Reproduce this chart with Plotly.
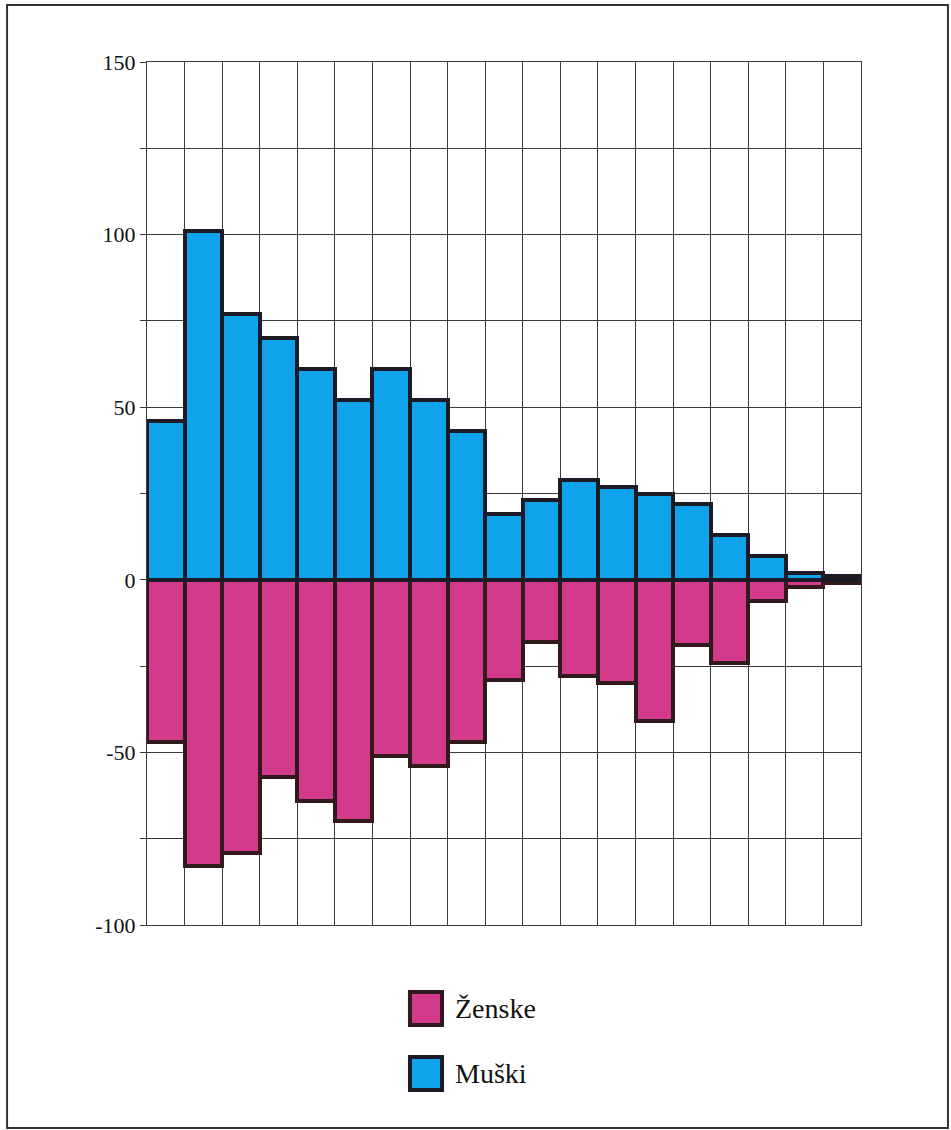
import plotly.graph_objects as go

# Age-group bins (19 columns), male above the axis, female below
groups = list(range(1, 20))
muski = [46, 101, 77, 70, 61, 52, 61, 52, 43, 19, 23, 29, 27, 25, 22, 13, 7, 2, 1]
zenske = [-47, -83, -79, -57, -64, -70, -51, -54, -47, -29, -18, -28, -30, -41, -19, -24, -6, -2, -1]

y_ticks = [-100, -75, -50, -25, 0, 25, 50, 75, 100, 125, 150]
y_labels = ["-100", "", "-50", "", "0", "", "50", "", "100", "", "150"]

SERIF = "Times New Roman, Liberation Serif, DejaVu Serif, serif"
BLUE = "#0EA3EA"
PINK = "#D43A8B"
EDGE_M = "#1c1a24"
EDGE_F = "#32191b"
GRID = "#3a3a3a"

x_centers = [g - 0.5 for g in groups]

fig = go.Figure()
fig.add_trace(go.Bar(
    x=x_centers, y=zenske, width=1, name="Ženske",
    marker=dict(color=PINK, line=dict(color=EDGE_F, width=4)),
    showlegend=False,
))
fig.add_trace(go.Bar(
    x=x_centers, y=muski, width=1, name="Muški",
    marker=dict(color=BLUE, line=dict(color=EDGE_M, width=4)),
    showlegend=False,
))

# Legend drawn as boxes with labels below the plot
legend_items = [("Ženske", PINK, EDGE_F, -0.0776, -0.1159),
                ("Muški", BLUE, EDGE_M, -0.1530, -0.1912)]
shapes = []
annotations = []
for label, fill, edge, y_top, y_bot in legend_items:
    shapes.append(dict(type="rect", xref="paper", yref="paper",
                       x0=0.3683, x1=0.4132, y0=y_bot, y1=y_top,
                       fillcolor=fill, line=dict(color=edge, width=4)))
    annotations.append(dict(xref="paper", yref="paper", x=0.4286,
                            y=(y_top + y_bot) / 2, text=label, showarrow=False,
                            xanchor="left", yanchor="middle",
                            font=dict(family=SERIF, size=28, color="#111")))

# Outer frame around the whole chart
shapes.append(dict(type="rect", xref="paper", yref="paper",
                   x0=-0.196, x1=1.1218, y0=-0.2352, y1=1.066,
                   line=dict(color="#333", width=2), fillcolor="rgba(0,0,0,0)",
                   layer="below"))

fig.update_layout(
    width=951, height=1130,
    margin=dict(l=147, r=90, t=62, b=205),
    paper_bgcolor="white", plot_bgcolor="white",
    barmode="relative", bargap=0,
    shapes=shapes, annotations=annotations,
    font=dict(family=SERIF, color="#111"),
    xaxis=dict(range=[0, 19], tick0=0, dtick=1, showticklabels=False,
               ticks="", showgrid=True, gridcolor=GRID, gridwidth=1,
               zeroline=False, showline=True, linecolor=GRID, linewidth=1,
               mirror=True, fixedrange=True),
    yaxis=dict(range=[-100, 150], tickmode="array", tickvals=y_ticks,
               ticktext=y_labels, ticks="outside", ticklen=6, tickcolor=GRID,
               tickfont=dict(family=SERIF, size=22, color="#111"),
               showgrid=True, gridcolor=GRID, gridwidth=1,
               zeroline=False, showline=True, linecolor=GRID, linewidth=1,
               mirror=True, fixedrange=True),
)

fig.write_html("out.html")
